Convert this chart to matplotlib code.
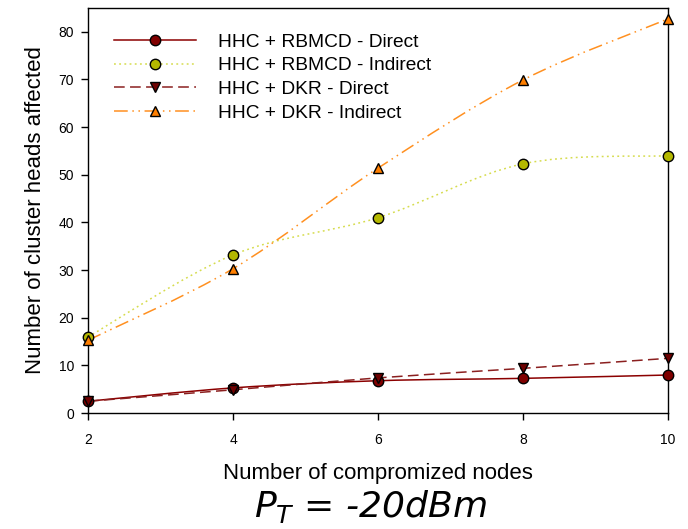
import numpy as np
import matplotlib
matplotlib.use("Agg")
import matplotlib.pyplot as plt
from matplotlib.path import Path
from matplotlib.patches import PathPatch
from matplotlib.lines import Line2D

plt.rcParams['font.family'] = ['Liberation Sans', 'DejaVu Sans']
plt.rcParams['mathtext.fontset'] = 'dejavusans'

nodes = [2, 4, 6, 8, 10]
rbmcd_direct = [2.5, 5.3, 6.8, 7.3, 8.0]
rbmcd_indirect = [16.0, 33.2, 41.0, 52.3, 54.0]
dkr_direct = [2.5, 4.9, 7.4, 9.4, 11.5]
dkr_indirect = [15.3, 30.3, 51.4, 69.9, 82.7]

labels = ["HHC + RBMCD - Direct", "HHC + RBMCD - Indirect",
          "HHC + DKR - Direct", "HHC + DKR - Indirect"]


def smooth_path(x, y):
	# catmull-rom through the data points, as bezier segments
	x = np.asarray(x, float)
	y = np.asarray(y, float)
	p = np.column_stack([x, y])
	verts = [p[0]]
	codes = [Path.MOVETO]
	n = len(p)
	for i in range(n - 1):
		p0 = p[i - 1] if i > 0 else p[i]
		p3 = p[i + 2] if i + 2 < n else p[i + 1]
		c1 = p[i] + (p[i + 1] - p0) / 6.0
		c2 = p[i + 1] - (p3 - p[i]) / 6.0
		verts += [c1, c2, p[i + 1]]
		codes += [Path.CURVE4] * 3
	return Path(verts, codes)


fig = plt.figure(figsize=(6.88, 5.29), dpi=100)
ax = fig.add_axes([0.128, 0.219, 0.843, 0.766])

series = [
	(rbmcd_direct, '#8b0000', '-', 'o', '#800000', 7.5),
	(rbmcd_indirect, '#d6dc4e', (0, (1.2, 2.2)), 'o', '#b4b800', 7.5),
	(dkr_direct, '#8b2020', (0, (7, 3.5)), 'v', '#6e0000', 7.5),
	(dkr_indirect, '#ff9020', (0, (9, 3, 1, 3, 1, 3)), '^', '#ff7f00', 7.5),
]

handles = []
for (vals, lc, ls, mk, fc, ms), name in zip(series, labels):
	patch = PathPatch(smooth_path(nodes, vals), fill=False, edgecolor=lc,
	                  linestyle=ls, linewidth=1.1, zorder=2)
	ax.add_patch(patch)
	ax.plot(nodes, vals, linestyle='none', marker=mk, markersize=ms,
	        markerfacecolor=fc, markeredgecolor='black', markeredgewidth=1.0,
	        zorder=3, clip_on=False)
	handles.append(Line2D([], [], color=lc, linestyle=ls, linewidth=1.1,
	                      marker=mk, markersize=ms, markerfacecolor=fc,
	                      markeredgecolor='black', markeredgewidth=1.0))

ax.set_xlim(2, 10)
ax.set_ylim(0, 85)
ax.set_xticks(nodes)
ax.set_yticks(range(0, 81, 10))
ax.tick_params(direction='out', length=5, width=1, labelsize=10)
ax.tick_params(axis='x', pad=9)
ax.tick_params(axis='y', pad=5)
for sp in ax.spines.values():
	sp.set_linewidth(1.0)

ax.set_xlabel("Number of compromized nodes", fontsize=16, labelpad=12)
ax.set_ylabel("Number of cluster heads affected", fontsize=16, labelpad=9)

ax.legend(handles, labels, loc='upper left', frameon=False, fontsize=13.8,
          handlelength=4.3, handletextpad=1.1, labelspacing=0.33,
          bbox_to_anchor=(0.015, 0.98))

fig.text(0.538, 0.042, r"$P_T$ = -20dBm", fontsize=26, style='italic',
         family='DejaVu Sans', ha='center', va='center')

fig.savefig("out.png", dpi=100)
